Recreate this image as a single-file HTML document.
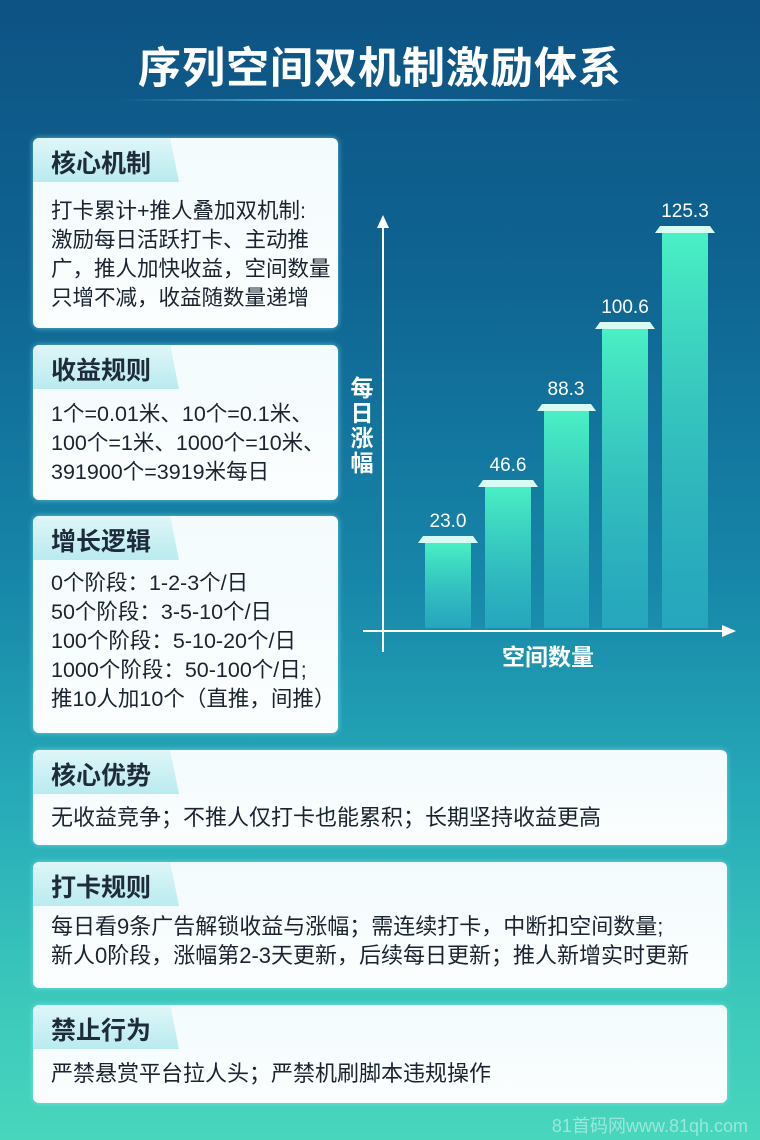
<!DOCTYPE html>
<html><head><meta charset="utf-8"><style>
*{margin:0;padding:0;box-sizing:border-box}
body{width:760px;height:1140px;overflow:hidden;font-family:"Liberation Sans","Noto Sans CJK SC",sans-serif;
background:linear-gradient(180deg,#0d5384 0%,#0f6592 25%,#1685a8 50%,#26aab8 70%,#3cc9bb 88%,#48d6bd 100%);position:relative}
.title{position:absolute;top:34px;left:0;width:760px;text-align:center;color:#fff;font-size:43px;font-weight:bold;letter-spacing:1px}
.line{position:absolute;top:99px;left:120px;width:520px;height:2px;background:linear-gradient(90deg,rgba(80,220,255,0),rgba(120,235,255,.9),rgba(80,220,255,0))}
.card{position:absolute;background:linear-gradient(180deg,#f3fbfd,#fbfeff);border-radius:6px;box-shadow:0 0 6px rgba(150,240,255,.6)}
.tab{position:absolute;left:0;top:0;height:44px;width:146px;border-radius:6px 0 0 0;background:linear-gradient(180deg,#dff6f8,#b9ebef);
clip-path:polygon(0 0,94% 0,100% 100%,0 100%);font-size:25px;font-weight:bold;color:#1d2b3a;padding:6px 0 0 18px}
.body{position:absolute;left:18px;font-size:21.5px;line-height:29px;color:#1a2430;white-space:nowrap}
.wide .body{font-size:22px}
svg{position:absolute;left:0;top:0}
</style></head><body>
<div class="title">序列空间双机制激励体系</div>
<div class="line"></div>

<div class="card" style="left:33px;top:138px;width:305px;height:190px"><div class="tab">核心机制</div>
<div class="body" style="top:59px">打卡累计+推人叠加双机制:<br>激励每日活跃打卡、主动推<br>广，推人加快收益，空间数量<br>只增不减，收益随数量递增</div></div>

<div class="card" style="left:33px;top:345px;width:305px;height:155px"><div class="tab">收益规则</div>
<div class="body" style="top:55px">1个=0.01米、10个=0.1米、<br>100个=1米、1000个=10米、<br>391900个=3919米每日</div></div>

<div class="card" style="left:33px;top:516px;width:305px;height:217px"><div class="tab">增长逻辑</div>
<div class="body" style="top:53px">0个阶段：1-2-3个/日<br>50个阶段：3-5-10个/日<br>100个阶段：5-10-20个/日<br>1000个阶段：50-100个/日;<br>推10人加10个（直推，间推）</div></div>

<div class="card wide" style="left:33px;top:750px;width:694px;height:95px"><div class="tab">核心优势</div>
<div class="body" style="top:53px">无收益竞争；不推人仅打卡也能累积；长期坚持收益更高</div></div>

<div class="card wide" style="left:33px;top:862px;width:694px;height:126px"><div class="tab">打卡规则</div>
<div class="body" style="top:50px">每日看9条广告解锁收益与涨幅；需连续打卡，中断扣空间数量;<br>新人0阶段，涨幅第2-3天更新，后续每日更新；推人新增实时更新</div></div>

<div class="card wide" style="left:33px;top:1005px;width:694px;height:98px"><div class="tab">禁止行为</div>
<div class="body" style="top:54px">严禁悬赏平台拉人头；严禁机刷脚本违规操作</div></div>

<svg width="760" height="1140">
<defs><linearGradient id="g" x1="0" y1="0" x2="0" y2="1"><stop offset="0" stop-color="#4af0c4"/><stop offset="1" stop-color="#2eb6c8" stop-opacity=".6"/></linearGradient></defs>
<g fill="url(#g)">
<rect x="425" y="543" width="46" height="85"/><rect x="485" y="487" width="46" height="141"/>
<rect x="544" y="411" width="45" height="217"/><rect x="602" y="329" width="46" height="299"/>
<rect x="662" y="233" width="46" height="395"/></g>
<g fill="#d8fbf3">
<polygon points="423,536 473,536 478,543 418,543"/><polygon points="483,480 533,480 538,487 478,487"/>
<polygon points="542,404 591,404 596,411 537,411"/><polygon points="600,322 650,322 655,329 595,329"/>
<polygon points="660,226 710,226 715,233 655,233"/></g>
<g fill="#fff" font-size="19" text-anchor="middle" font-family="Liberation Sans,sans-serif">
<text x="448" y="527">23.0</text><text x="508" y="471">46.6</text><text x="566" y="395">88.3</text>
<text x="625" y="313">100.6</text><text x="685" y="217">125.3</text></g>
<line x1="383" y1="225" x2="383" y2="652" stroke="#fff" stroke-width="2"/>
<polygon points="377,228 383,215 389,228" fill="#fff"/>
<line x1="363" y1="631" x2="725" y2="631" stroke="#fff" stroke-width="2"/>
<polygon points="722,625 736,631 722,637" fill="#fff"/>
<g fill="#fff" font-size="23" font-weight="bold" font-family="Noto Sans CJK SC,sans-serif">
<text x="362" y="396" text-anchor="middle">每</text><text x="362" y="421" text-anchor="middle">日</text>
<text x="362" y="446" text-anchor="middle">涨</text><text x="362" y="471" text-anchor="middle">幅</text>
<text x="548" y="665" text-anchor="middle">空间数量</text></g>
<text x="748" y="1132" text-anchor="end" fill="rgba(255,255,255,.45)" font-size="18" font-family="Liberation Sans,Noto Sans CJK SC,sans-serif">81首码网www.81qh.com</text>
</svg>
</body></html>
